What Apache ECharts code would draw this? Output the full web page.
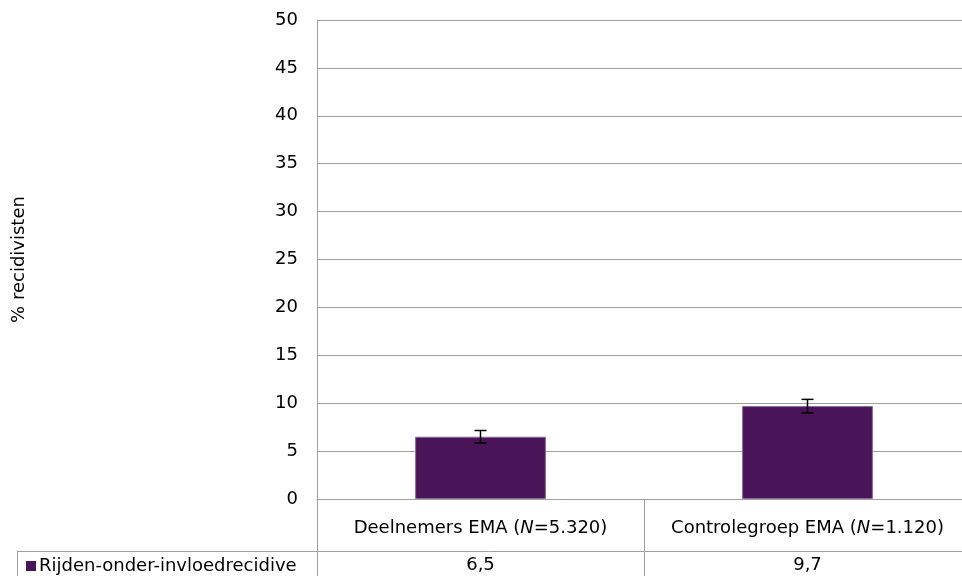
<!DOCTYPE html>
<html>
<head>
<meta charset="utf-8">
<script src="https://cdn.jsdelivr.net/npm/echarts@6/dist/echarts.min.js"></script>
<style>
html,body{margin:0;padding:0;background:#fff;}
#chart{width:962px;height:576px;}
</style>
</head>
<body>
<div id="chart"></div>
<script>
var groupNames = ['Deelnemers EMA', 'Controlegroep EMA'];
var groupN = ['5.320', '1.120'];
var seriesName = 'Rijden-onder-invloedrecidive';
var values = [6.5, 9.7];
var errLow = [5.85, 9.0];
var errHigh = [7.15, 10.4];
var yTicks = [0, 5, 10, 15, 20, 25, 30, 35, 40, 45, 50];
var yTitle = '% recidivisten';

var FONT = 'DejaVu Sans';
var chart = echarts.init(document.getElementById('chart'));

var option = {
  backgroundColor: '#fff',
  animation: false,
  textStyle: { fontFamily: FONT },
  grid: { left: 317, top: 20, width: 654, bottom: 77, containLabel: false, outerBoundsMode: 'none' },
  legend: {
    data: [seriesName],
    left: 21, top: 552,
    icon: 'rect', itemWidth: 10, itemHeight: 10, itemGap: 5,
    itemStyle: { borderWidth: 0 },
    textStyle: { fontFamily: FONT, fontSize: 18, color: '#000', padding: [0, 0, 0, -2] }
  },
  xAxis: [{
    type: 'category',
    data: groupNames,
    axisLine: { show: true, lineStyle: { color: '#a0a0a0', width: 1 } },
    axisTick: { show: true, interval: 0, length: 77, inside: false, lineStyle: { color: '#a0a0a0', width: 1 } },
    axisLabel: {
      interval: 0,
      margin: 20,
      fontFamily: FONT, fontSize: 18, color: '#000',
      formatter: function (v, i) { return v + ' ({i|N}=' + groupN[i] + ')'; },
      rich: { i: { fontStyle: 'italic', fontFamily: FONT, fontSize: 18, color: '#000' } }
    }
  }, {
    type: 'category',
    data: groupNames,
    position: 'bottom',
    axisLine: { show: false },
    axisTick: { show: false },
    axisLabel: {
      interval: 0,
      margin: 57,
      fontFamily: FONT, fontSize: 18, color: '#000',
      formatter: function (v, i) { return String(values[i]).replace('.', ','); }
    }
  }],
  yAxis: {
    type: 'value',
    min: yTicks[0], max: yTicks[yTicks.length - 1], interval: yTicks[1] - yTicks[0],
    name: yTitle,
    nameLocation: 'middle',
    nameRotate: 90,
    nameGap: 289,
    nameTextStyle: { fontFamily: FONT, fontSize: 18, color: '#000' },
    axisLine: { show: true, lineStyle: { color: '#a0a0a0', width: 1 } },
    axisTick: { show: false },
    axisLabel: { margin: 19, fontFamily: FONT, fontSize: 18, color: '#000' },
    splitLine: { show: true, lineStyle: { color: '#a0a0a0', width: 1 } }
  },
  series: [{
    name: seriesName,
    type: 'bar',
    data: values,
    barWidth: '40%',
    itemStyle: { color: '#4a1558', borderColor: '#8a6a9a', borderWidth: 1 }
  }, {
    type: 'custom',
    name: 'err',
    data: values.map(function (v, i) { return [i, errLow[i], errHigh[i]]; }),
    z: 10,
    renderItem: function (params, api) {
      var lo = api.coord([api.value(0), api.value(1)]);
      var hi = api.coord([api.value(0), api.value(2)]);
      var hw = 6;
      var st = { stroke: '#000', lineWidth: 1.5 };
      return {
        type: 'group',
        children: [
          { type: 'line', shape: { x1: hi[0], y1: hi[1], x2: lo[0], y2: lo[1] }, style: st },
          { type: 'line', shape: { x1: hi[0] - hw, y1: hi[1], x2: hi[0] + hw, y2: hi[1] }, style: st },
          { type: 'line', shape: { x1: lo[0] - hw, y1: lo[1], x2: lo[0] + hw, y2: lo[1] }, style: st }
        ]
      };
    }
  }],
  graphic: [
    { type: 'line', shape: { x1: 17, y1: 551.5, x2: 962, y2: 551.5 }, style: { stroke: '#a0a0a0', lineWidth: 1 } },
    { type: 'line', shape: { x1: 17.5, y1: 551, x2: 17.5, y2: 576 }, style: { stroke: '#a0a0a0', lineWidth: 1 } }
  ]
};
chart.setOption(option);
</script>
</body>
</html>
